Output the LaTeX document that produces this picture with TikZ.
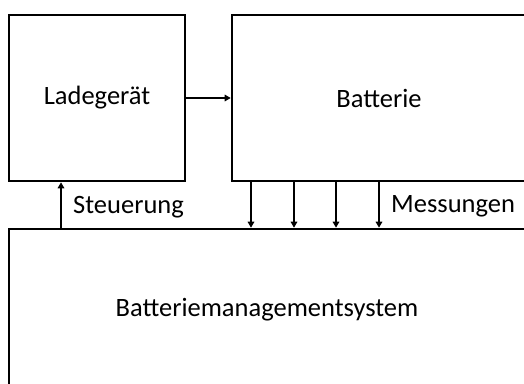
\documentclass[tikz,border=0pt]{standalone}
\usepackage{fontspec}
\setmainfont{Carlito}
\usetikzlibrary{arrows.meta, positioning}

\begin{document}
\begin{tikzpicture}[x=1pt, y=-1pt,
    every node/.style={font=\fontsize{26.5}{30}\selectfont, inner sep=0pt},
    block/.style={draw, line width=2.6pt, rectangle},
    arr/.style={line width=1.8pt, -{Triangle[length=6pt, width=6.5pt]}}]
  \useasboundingbox (0,0) rectangle (524,383);
  \node[block, minimum width=176pt, minimum height=166pt] (lade) at (97,98) {Ladeger\"at};
  \node[block, minimum width=294pt, minimum height=166pt] (batt) at (379,98) {Batterie};
  \node[block, minimum width=516pt, minimum height=162pt] (bms) at (267,310) {Batteriemanagementsystem};
  \draw[arr] (lade.east) -- (batt.west);
  \draw[arr] (61,0 |- bms.north) -- (61,0 |- lade.south);
  \foreach \x in {251,294,336,379} \draw[arr] (\x,0 |- batt.south) -- (\x,0 |- bms.north);
  \node[anchor=west] (steuer) at (73,207) {Steuerung};
  \node[anchor=west] (mess) at (391,206) {Messungen};
\end{tikzpicture}
\end{document}
